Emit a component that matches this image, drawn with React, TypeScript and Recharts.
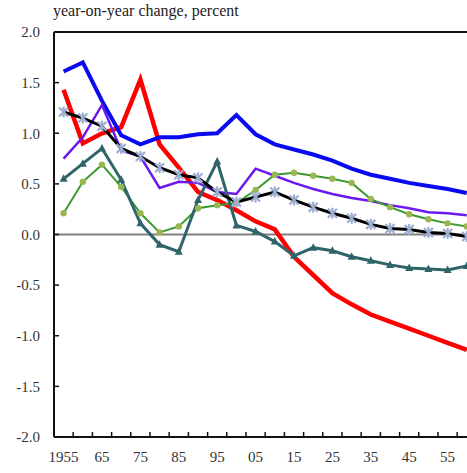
import { LineChart, Line, XAxis, YAxis, ReferenceLine } from 'recharts'

const YEARS = [1955, 1960, 1965, 1970, 1975, 1980, 1985, 1990, 1995, 2000, 2005, 2010, 2015, 2020, 2025, 2030, 2035, 2040, 2045, 2050, 2055, 2060]

const BLUE = [1.61, 1.7, 1.32, 0.98, 0.89, 0.96, 0.96, 0.99, 1.0, 1.18, 0.99, 0.89, 0.84, 0.79, 0.73, 0.65, 0.59, 0.55, 0.51, 0.48, 0.45, 0.41]
const RED = [1.43, 0.9, 1.0, 1.06, 1.53, 0.89, 0.66, 0.42, 0.34, 0.24, 0.13, 0.05, -0.22, -0.4, -0.58, -0.69, -0.79, -0.86, -0.93, -1.0, -1.07, -1.14]
const PURPLE = [0.75, 0.96, 1.28, 0.83, 0.77, 0.46, 0.52, 0.51, 0.42, 0.4, 0.65, 0.58, 0.51, 0.45, 0.4, 0.36, 0.33, 0.29, 0.26, 0.22, 0.21, 0.19]
const GREEN = [0.21, 0.52, 0.69, 0.47, 0.21, 0.02, 0.08, 0.26, 0.29, 0.31, 0.44, 0.59, 0.61, 0.58, 0.55, 0.51, 0.35, 0.27, 0.2, 0.15, 0.11, 0.08]
const TEAL = [0.55, 0.7, 0.85, 0.54, 0.11, -0.1, -0.17, 0.34, 0.72, 0.09, 0.03, -0.07, -0.21, -0.13, -0.16, -0.22, -0.26, -0.3, -0.33, -0.34, -0.35, -0.31]
const BLACK = [1.21, 1.15, 1.07, 0.85, 0.77, 0.66, 0.59, 0.56, 0.42, 0.32, 0.37, 0.42, 0.34, 0.27, 0.21, 0.16, 0.1, 0.06, 0.05, 0.02, 0.01, -0.02]

const Y_TICKS = [-2, -1.5, -1, -0.5, 0, 0.5, 1, 1.5, 2]
const LABEL_YEARS = [1955, 1965, 1975, 1985, 1995, 2005, 2015, 2025, 2035, 2045, 2055]
// tick marks sit between the 5-year categories, labels on every other category
const TICK_MARKS = YEARS.slice(0, -1).map((y) => y + 2.5)
const X_TICKS = [...LABEL_YEARS, ...TICK_MARKS].sort((a, b) => a - b)

const data = YEARS.map((year, i) => ({
  year,
  blue: BLUE[i],
  red: RED[i],
  purple: PURPLE[i],
  green: GREEN[i],
  teal: TEAL[i],
  black: BLACK[i],
}))

const FONT = 'Liberation Serif, serif'
const AXIS = '#111'

const XTick = (props: any) => {
  const { x, y, payload } = props
  const v = payload.value
  if (v % 5 !== 0) return <line x1={x} y1={y} x2={x} y2={y - 5} stroke={AXIS} strokeWidth={1.5} />
  const label = v === 1955 ? '1955' : String(v % 100).padStart(2, '0')
  return (
    <text x={x} y={y + 14} dy="0.71em" textAnchor="middle" fill="#333" fontSize={15} fontFamily={FONT}>
      {label}
    </text>
  )
}

const YTick = (props: any) => {
  const { x, y, payload } = props
  return (
    <g>
      <line x1={x} y1={y} x2={x + 5} y2={y} stroke={AXIS} strokeWidth={1.5} />
      <text x={x - 14} y={y} dy="0.355em" textAnchor="end" fill="#333" fontSize={15} fontFamily={FONT}>
        {payload.value.toFixed(1)}
      </text>
    </g>
  )
}

const Triangle = (props: any) => {
  const { cx, cy, index } = props
  if (cx == null || cy == null) return null
  return <polygon key={index} points={`${cx},${cy - 4.5} ${cx + 4},${cy + 3} ${cx - 4},${cy + 3}`} fill="#2F6468" />
}

const Star = (props: any) => {
  const { cx, cy, index } = props
  if (cx == null || cy == null) return null
  return (
    <g key={index} stroke="#9DADD0" strokeWidth={2.2}>
      <line x1={cx - 4.5} y1={cy - 4.5} x2={cx + 4.5} y2={cy + 4.5} />
      <line x1={cx - 4.5} y1={cy + 4.5} x2={cx + 4.5} y2={cy - 4.5} />
      <line x1={cx} y1={cy - 5.5} x2={cx} y2={cy + 5.5} />
    </g>
  )
}

export default function App() {
  return (
    <div style={{ position: 'absolute', left: 0, top: 0, width: 467, height: 473, overflow: 'hidden', background: '#fff' }}>
      <div style={{ position: 'absolute', left: 53, top: 2, fontFamily: FONT, fontSize: 16, color: '#222' }}>
        year-on-year change, percent
      </div>
      <LineChart width={480} height={473} data={data} margin={{ top: 32, right: 3.6, left: 0, bottom: 0 }}>
        <XAxis
          dataKey="year"
          type="number"
          domain={[1952.5, 2062.5]}
          ticks={X_TICKS}
          interval={0}
          height={36}
          tickSize={0}
          tickMargin={0}
          tickLine={false}
          axisLine={{ stroke: AXIS, strokeWidth: 2 }}
          tick={XTick}
        />
        <YAxis
          domain={[-2, 2]}
          ticks={Y_TICKS}
          interval={0}
          width={54}
          tickSize={0}
          tickMargin={0}
          tickLine={false}
          axisLine={{ stroke: AXIS, strokeWidth: 2 }}
          tick={YTick}
        />
        <ReferenceLine y={2} stroke={AXIS} strokeWidth={2} ifOverflow="visible" />
        <ReferenceLine y={0} stroke="#808080" strokeWidth={2} />
        <Line dataKey="red" stroke="#FF0000" strokeWidth={4.5} dot={false} isAnimationActive={false} />
        <Line dataKey="blue" stroke="#0A0AF0" strokeWidth={4} dot={false} isAnimationActive={false} />
        <Line dataKey="purple" stroke="#6A1AF0" strokeWidth={2.5} dot={false} isAnimationActive={false} />
        <Line
          dataKey="green"
          stroke="#3A9A2E"
          strokeWidth={2}
          dot={{ r: 2.2, fill: '#9AB552', stroke: '#9AB552' }}
          isAnimationActive={false}
        />
        <Line dataKey="teal" stroke="#2F6468" strokeWidth={3} dot={Triangle} isAnimationActive={false} />
        <Line dataKey="black" stroke="#000" strokeWidth={3} dot={Star} isAnimationActive={false} />
      </LineChart>
    </div>
  )
}
